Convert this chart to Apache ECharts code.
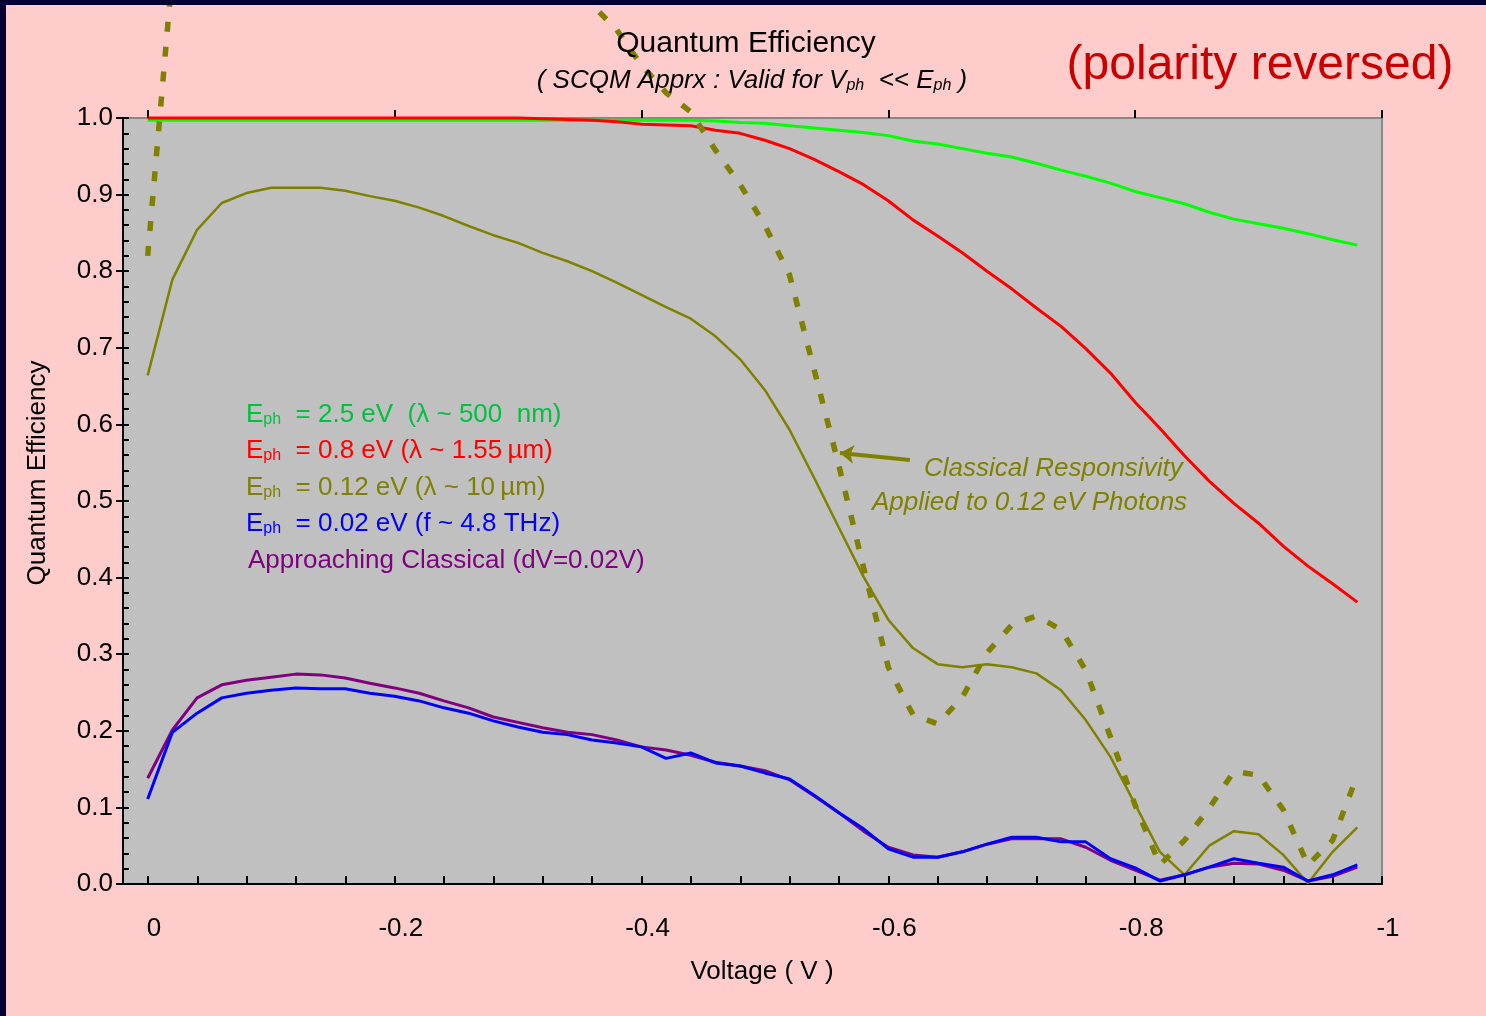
<!DOCTYPE html>
<html>
<head>
<meta charset="utf-8">
<title>Quantum Efficiency</title>
<script src="https://cdn.jsdelivr.net/npm/echarts@6.0.0/dist/echarts.min.js"></script>
<style>
    html, body { margin: 0; padding: 0; background: #ffcccc; }
    #chart { width: 1486px; height: 1016px; }
</style>
</head>
<body>
<div id="chart"></div>
<script>
// bias voltage (V), one point every 0.02 V
var volts = [0, -0.02, -0.04, -0.06, -0.08, -0.1, -0.12, -0.14, -0.16, -0.18,
    -0.2, -0.22, -0.24, -0.26, -0.28, -0.3, -0.32, -0.34, -0.36, -0.38,
    -0.4, -0.42, -0.44, -0.46, -0.48, -0.5, -0.52, -0.54, -0.56, -0.58,
    -0.6, -0.62, -0.64, -0.66, -0.68, -0.7, -0.72, -0.74, -0.76, -0.78,
    -0.8, -0.82, -0.84, -0.86, -0.88, -0.9, -0.92, -0.94, -0.96, -0.98];

// Eph = 2.5 eV
var qe2p5 = [0.997, 0.997, 0.997, 0.997, 0.997, 0.997, 0.997, 0.997, 0.997, 0.997,
    0.997, 0.997, 0.997, 0.997, 0.997, 0.997, 0.997, 0.997, 0.997, 0.997,
    0.997, 0.997, 0.997, 0.996, 0.994, 0.993, 0.990, 0.987, 0.984, 0.981,
    0.977, 0.970, 0.966, 0.960, 0.954, 0.949, 0.941, 0.932, 0.924, 0.915,
    0.904, 0.896, 0.888, 0.877, 0.868, 0.862, 0.856, 0.849, 0.841, 0.834];

// Eph = 0.8 eV
var qe0p8 = [1, 1, 1, 1, 1, 1, 1, 1, 1, 1,
    1, 1, 1, 1, 1, 1, 0.999, 0.998, 0.997, 0.995,
    0.992, 0.991, 0.990, 0.984, 0.980, 0.971, 0.960, 0.946, 0.930, 0.913,
    0.892, 0.867, 0.846, 0.824, 0.800, 0.777, 0.752, 0.728, 0.699, 0.667,
    0.629, 0.595, 0.559, 0.526, 0.497, 0.471, 0.441, 0.415, 0.392, 0.368];

// Eph = 0.12 eV
var qe0p12 = [0.664, 0.789, 0.854, 0.889, 0.902, 0.909, 0.909, 0.909, 0.905, 0.898,
    0.892, 0.883, 0.872, 0.859, 0.847, 0.837, 0.824, 0.813, 0.800, 0.785,
    0.769, 0.753, 0.738, 0.715, 0.685, 0.645, 0.593, 0.530, 0.465, 0.401,
    0.345, 0.308, 0.287, 0.283, 0.287, 0.283, 0.275, 0.253, 0.214, 0.166,
    0.104, 0.042, 0.012, 0.050, 0.069, 0.065, 0.038, 0.001, 0.042, 0.074];

// Eph = 0.02 eV
var qe0p02 = [0.111, 0.198, 0.223, 0.243, 0.249, 0.253, 0.256, 0.255, 0.255, 0.249,
    0.245, 0.239, 0.230, 0.223, 0.213, 0.205, 0.198, 0.195, 0.188, 0.184,
    0.179, 0.164, 0.171, 0.158, 0.154, 0.145, 0.137, 0.116, 0.093, 0.072,
    0.046, 0.035, 0.035, 0.042, 0.052, 0.061, 0.061, 0.055, 0.055, 0.033,
    0.021, 0.004, 0.012, 0.022, 0.033, 0.027, 0.022, 0.004, 0.012, 0.025];

// approaching classical (dV = 0.02 V)
var qeClassical = [0.138, 0.201, 0.243, 0.260, 0.266, 0.270, 0.274, 0.273, 0.269, 0.262,
    0.256, 0.249, 0.239, 0.230, 0.218, 0.211, 0.204, 0.198, 0.195, 0.188,
    0.179, 0.175, 0.168, 0.159, 0.154, 0.148, 0.136, 0.115, 0.093, 0.069,
    0.048, 0.038, 0.035, 0.042, 0.052, 0.059, 0.059, 0.059, 0.048, 0.031,
    0.018, 0.005, 0.012, 0.022, 0.027, 0.026, 0.018, 0.004, 0.010, 0.022];

// classical responsivity applied to 0.12 eV photons (runs off the top of the page)
var qeClassResp = [0.82, 1.19, 1.32, 1.40, 1.45, 1.47, 1.47, 1.45, 1.43, 1.40,
    1.37, 1.34, 1.31, 1.28, 1.25, 1.23, 1.21, 1.18, 1.148, 1.115,
    1.069, 1.033, 1.008, 0.958, 0.913, 0.860, 0.795, 0.671, 0.546, 0.413,
    0.283, 0.221, 0.209, 0.244, 0.302, 0.338, 0.350, 0.332, 0.279, 0.192,
    0.103, 0.025, 0.057, 0.099, 0.147, 0.142, 0.097, 0.025, 0.057, 0.142];

// arrow pointing at the dashed curve: [tail, head] in (V, QE)
var arrowTail = [-0.6175, 0.5535];
var arrowHead = [-0.5608, 0.5627];

var FONT = 'Liberation Sans, Arial, sans-serif';
var OLIVE = '#808000';

window.onload = function () {
    drawChart();
};

function pairs(ys) {
    return volts.map(function (v, i) {
        return [v, ys[i]];
    });
}

function lineSeries(name, ys, color, width, z) {
    return {
        name: name,
        type: 'line',
        xAxisIndex: 0,
        yAxisIndex: 0,
        data: pairs(ys),
        symbol: 'none',
        clip: false,
        z: z,
        lineStyle: { color: color, width: width },
        emphasis: { disabled: true }
    };
}

function legendLine(y, color, body) {
    return {
        type: 'text',
        x: 246,
        y: y,
        z: 50,
        style: {
            text: body,
            fill: color,
            textAlign: 'left',
            textVerticalAlign: 'middle',
            rich: {
                m: { fontSize: 26, fontFamily: FONT },
                s: { fontSize: 16, fontFamily: FONT, verticalAlign: 'bottom' }
            }
        }
    };
}

function drawChart() {
    var chart = echarts.init(document.getElementById('chart'));
    var tickStyle = { color: '#000', width: 2 };

    var option = {
        backgroundColor: '#ffcccc',
        animation: false,
        textStyle: { fontFamily: FONT },
        grid: [
            {
                left: 123, top: 118, width: 1259, height: 766,
                show: true, backgroundColor: '#c0c0c0',
                borderColor: '#888888', borderWidth: 2,
                containLabel: false, outerBoundsMode: 'none'
            },
            {
                left: 148, top: 118, width: 1234, height: 766,
                show: false, containLabel: false, outerBoundsMode: 'none'
            }
        ],
        xAxis: [
            {
                gridIndex: 0, type: 'value', min: -1, max: 0.02, inverse: true,
                axisLine: { show: true, onZero: false, lineStyle: { color: '#000', width: 2 } },
                axisTick: { show: false },
                axisLabel: { show: false },
                splitLine: { show: false }
            },
            {
                gridIndex: 1, type: 'value', min: -1, max: 0, interval: 0.2, inverse: true,
                axisLine: { show: false, onZero: false },
                axisTick: { show: true, inside: true, length: 8, lineStyle: tickStyle },
                minorTick: { show: true, splitNumber: 5, length: 8, lineStyle: tickStyle },
                axisLabel: {
                    show: true, margin: 32, fontSize: 26, color: '#000',
                    fontFamily: FONT, padding: [0, 0, 0, 12]
                },
                splitLine: { show: false }
            },
            {
                gridIndex: 1, type: 'value', min: -1, max: 0, interval: 0.2, inverse: true,
                axisLine: { show: false, onZero: false },
                axisTick: { show: true, inside: false, length: 8, lineStyle: tickStyle },
                axisLabel: { show: false },
                splitLine: { show: false }
            }
        ],
        yAxis: [
            {
                gridIndex: 0, type: 'value', position: 'left', min: 0, max: 1, interval: 0.1,
                axisLine: { show: true, onZero: false, lineStyle: { color: '#000', width: 2 } },
                axisTick: { show: true, inside: true, length: 6, lineStyle: tickStyle },
                minorTick: { show: true, splitNumber: 5, length: 6, lineStyle: tickStyle },
                axisLabel: {
                    show: true, margin: 10, fontSize: 26, color: '#000', fontFamily: FONT,
                    padding: [12, 0, 0, 0],
                    formatter: function (v) { return v.toFixed(1); }
                },
                splitLine: { show: false }
            },
            {
                gridIndex: 0, type: 'value', position: 'left', min: 0, max: 1, interval: 0.1,
                axisLine: { show: false, onZero: false },
                axisTick: { show: true, inside: false, length: 7, lineStyle: tickStyle },
                axisLabel: { show: false },
                splitLine: { show: false }
            },
            {
                gridIndex: 1, type: 'value', min: 0, max: 1, show: false
            }
        ],
        series: [
            lineSeries('Eph = 2.5 eV', qe2p5, '#00ff00', 3, 2),
            lineSeries('Eph = 0.8 eV', qe0p8, '#ff0000', 3, 3),
            lineSeries('Eph = 0.12 eV', qe0p12, OLIVE, 2.5, 4),
            lineSeries('Approaching Classical', qeClassical, '#800080', 3, 5),
            lineSeries('Eph = 0.02 eV', qe0p02, '#0000ff', 3, 6),
            {
                name: 'Classical Responsivity',
                type: 'line',
                xAxisIndex: 0,
                yAxisIndex: 0,
                data: pairs(qeClassResp),
                symbol: 'none',
                clip: false,
                z: 7,
                lineStyle: { color: OLIVE, width: 5.5, type: [10, 15], cap: 'butt' },
                emphasis: { disabled: true },
                markLine: {
                    silent: true,
                    symbol: ['none', 'arrow'],
                    symbolSize: [14, 14],
                    label: { show: false },
                    lineStyle: { color: OLIVE, width: 4, type: 'solid' },
                    emphasis: { disabled: true },
                    data: [[{ coord: arrowTail }, { coord: arrowHead }]]
                }
            }
        ],
        graphic: [
            {
                type: 'text', x: 746, y: 44, z: 50,
                style: {
                    text: 'Quantum Efficiency', font: '30px ' + FONT, fill: '#000',
                    textAlign: 'center', textVerticalAlign: 'middle'
                }
            },
            {
                type: 'text', x: 752, y: 81, z: 50,
                style: {
                    text: '{i|( SCQM Apprx : Valid for V}{s|ph}{i|  << E}{s|ph}{i| )}',
                    fill: '#000',
                    textAlign: 'center', textVerticalAlign: 'middle',
                    rich: {
                        i: { fontSize: 26, fontStyle: 'italic', fontFamily: FONT },
                        s: { fontSize: 16, fontStyle: 'italic', fontFamily: FONT, verticalAlign: 'bottom' }
                    }
                }
            },
            {
                type: 'text', x: 1260, y: 66, z: 50,
                style: {
                    text: '(polarity reversed)', font: '48px ' + FONT, fill: '#c80000',
                    textAlign: 'center', textVerticalAlign: 'middle'
                }
            },
            legendLine(415, '#00c040', '{m|E}{s|ph}{m|  = 2.5 eV  (\u03bb ~ 500  nm)}'),
            legendLine(451, '#ff0000', '{m|E}{s|ph}{m|  = 0.8 eV (\u03bb ~ 1.55\u2009\u00b5m)}'),
            legendLine(488, OLIVE, '{m|E}{s|ph}{m|  = 0.12 eV (\u03bb ~ 10\u2009\u00b5m)}'),
            legendLine(524, '#0000ff', '{m|E}{s|ph}{m|  = 0.02 eV (f ~ 4.8 THz)}'),
            {
                type: 'text', x: 248, y: 561, z: 50,
                style: {
                    text: 'Approaching Classical (dV=0.02V)', font: '26px ' + FONT, fill: '#800080',
                    textAlign: 'left', textVerticalAlign: 'middle'
                }
            },
            {
                type: 'text', x: 924, y: 469, z: 50,
                style: {
                    text: 'Classical Responsivity', font: 'italic 26px ' + FONT, fill: OLIVE,
                    textAlign: 'left', textVerticalAlign: 'middle'
                }
            },
            {
                type: 'text', x: 872, y: 503, z: 50,
                style: {
                    text: 'Applied to 0.12 eV Photons', font: 'italic 26px ' + FONT, fill: OLIVE,
                    textAlign: 'left', textVerticalAlign: 'middle'
                }
            },
            {
                type: 'text', x: 762, y: 972, z: 50,
                style: {
                    text: 'Voltage ( V )', font: '26px ' + FONT, fill: '#000',
                    textAlign: 'center', textVerticalAlign: 'middle'
                }
            },
            {
                type: 'text', x: 38, y: 473, z: 50, rotation: Math.PI / 2,
                style: {
                    text: 'Quantum Efficiency', font: '26px ' + FONT, fill: '#000',
                    textAlign: 'center', textVerticalAlign: 'middle'
                }
            },
            // dark frame along the top and left edge of the slide
            { type: 'rect', z: 100, shape: { x: 0, y: 0, width: 1486, height: 5 }, style: { fill: '#000033' } },
            { type: 'rect', z: 100, shape: { x: 0, y: 0, width: 6, height: 1016 }, style: { fill: '#000033' } }
        ]
    };

    chart.setOption(option);
}
</script>
</body>
</html>
